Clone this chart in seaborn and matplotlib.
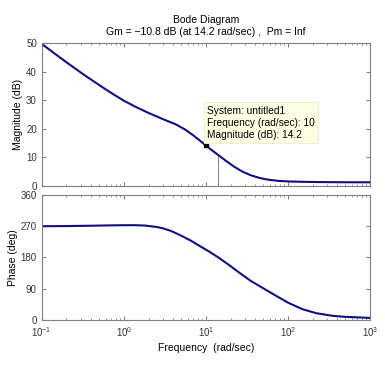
import matplotlib
matplotlib.use("Agg")
import matplotlib.pyplot as plt
import seaborn as sns
import pandas as pd

# valores
mag_freq = [0.1, 0.15, 0.22, 0.33, 0.55, 0.75, 1.0, 1.4, 2.0, 2.9, 4.3, 5.5, 6.9, 8.3, 10,
            12, 14.2, 17.5, 22, 28, 35, 45, 56, 75, 100, 150, 250, 500, 1000]
mag_db = [49.8, 46.0, 42.5, 38.9, 34.6, 32.1, 29.9, 27.7, 25.6, 23.6, 21.6, 19.9, 17.9, 16.1, 14.2,
          12.4, 10.8, 8.85, 6.8, 5.0, 3.8, 2.82, 2.25, 1.82, 1.6, 1.47, 1.37, 1.31, 1.3]

phase_freq = [0.1, 0.2, 0.4, 0.7, 1.0, 1.4, 1.8, 2.5, 3.0, 3.7, 4.8, 6.5, 8.7, 11.5, 14.2,
              17, 20, 27, 35, 47, 70, 100, 150, 222, 350, 500, 1000]
phase_deg = [270, 270.5, 271.5, 272.5, 273, 273, 272, 268, 264, 257, 245, 229, 211, 194, 180,
             167, 155, 132, 113, 95, 71, 50, 31, 19.5, 12, 9, 6]

mag_ticks = [0, 10, 20, 30, 40, 50]
phase_ticks = [0, 90, 180, 270, 360]

# margem de ganho
gm_freq = 14.2
gm_db = 10.8
tip_freq = 10
tip_db = 14.2

sns.set_style("ticks")
plt.rcParams['font.family'] = ['Liberation Sans', 'DejaVu Sans']

line_color = '#0f0f80'
axis_color = '#808080'
text_color = '#333333'

fig = plt.figure(figsize=(3.85, 3.65), dpi=100)
ax1 = fig.add_axes([0.1083, 0.4904, 0.853, 0.391])
ax2 = fig.add_axes([0.1083, 0.1233, 0.853, 0.3425])

df_mag = pd.DataFrame({'freq': mag_freq, 'mag': mag_db})
df_phase = pd.DataFrame({'freq': phase_freq, 'phase': phase_deg})

sns.lineplot(data=df_mag, x='freq', y='mag', ax=ax1, color=line_color, linewidth=1.5)
sns.lineplot(data=df_phase, x='freq', y='phase', ax=ax2, color=line_color, linewidth=1.5)

# linha vertical da margem de ganho
ax1.plot([gm_freq, gm_freq], [0, gm_db], color='#8c8c8c', linewidth=0.8, zorder=1)

# data tip
ax1.plot([tip_freq], [tip_db], marker='s', color='black', markersize=3.5, zorder=5)
ax1.text(10.4, 28.2, "System: untitled1\nFrequency (rad/sec): 10\nMagnitude (dB): 14.2",
         fontsize=7.3, color='black', va='top', ha='left', linespacing=1.3,
         bbox=dict(boxstyle='square,pad=0.3', facecolor='#ffffe6', edgecolor='#ececd0', linewidth=0.6),
         zorder=6)

for ax in (ax1, ax2):
    ax.set_xscale('log')
    ax.set_xlim(0.1, 1000)
    ax.tick_params(which='both', direction='in', top=True, right=True,
                   colors=axis_color, labelcolor=text_color, labelsize=7)
    ax.tick_params(which='major', length=3)
    ax.tick_params(which='minor', length=1.5)
    for s in ax.spines.values():
        s.set_color(axis_color)
        s.set_linewidth(0.8)

ax1.set_ylim(0, 50)
ax1.set_yticks(mag_ticks)
ax1.set_xticklabels([])
ax1.set_xlabel('')
ax1.set_ylabel('Magnitude (dB)', fontsize=7.5, color='black', labelpad=2)

ax2.set_ylim(0, 360)
ax2.set_yticks(phase_ticks)
ax2.set_xlabel('Frequency  (rad/sec)', fontsize=7.5, color='black', labelpad=3)
ax2.set_ylabel('Phase (deg)', fontsize=7.5, color='black', labelpad=2)

ax1.set_title("Bode Diagram\nGm = \u221210.8 dB (at 14.2 rad/sec) ,  Pm = Inf",
              fontsize=7.5, color='black', pad=6, linespacing=1.3)

fig.savefig('out.png', dpi=100)
